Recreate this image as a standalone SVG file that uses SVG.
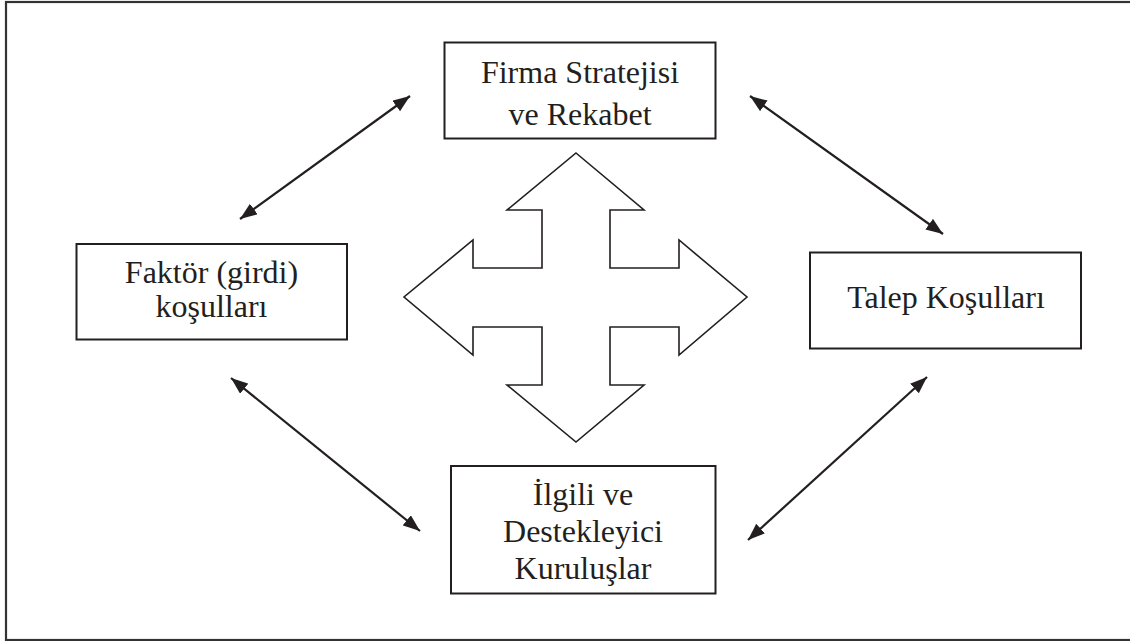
<svg xmlns="http://www.w3.org/2000/svg" width="1130" height="641" viewBox="0 0 1130 641">
<style>
.box{fill:#fff;stroke:#231f20;stroke-width:2}
.lbl{font-family:"Liberation Serif","Times New Roman",serif;font-size:32px;fill:#231f20;text-anchor:middle}
.conn{stroke:#231f20;stroke-width:2.2;fill:none;marker-start:url(#ah);marker-end:url(#ah)}
</style>
<defs>
<marker id="ah" markerUnits="userSpaceOnUse" markerWidth="20" markerHeight="14" refX="17" refY="6.5" orient="auto-start-reverse" viewBox="0 0 20 14">
<path d="M0,0 L17,6.5 L0,13 Z" fill="#231f20"/>
</marker>
</defs>
<rect x="0" y="0" width="1130" height="641" fill="#fff"/>
<rect x="6" y="2" width="1130" height="638" fill="none" stroke="#333" stroke-width="2.2"/>
<g id="cross">
<polygon points="576,153 644,210 610,210 610,268 679,268 679,240 747,297 679,355 679,327 610,327 610,385 644,385 576,442 507,385 542,385 542,327 473,327 473,355 404,297 473,240 473,268 542,268 542,210 507,210" fill="#fff" stroke="#231f20" stroke-width="1.6" stroke-linejoin="miter"/>
</g>
<g id="connectors">
<line class="conn" x1="240" y1="219" x2="410" y2="96"/>
<line class="conn" x1="750" y1="96" x2="943" y2="234"/>
<line class="conn" x1="231" y1="378" x2="420" y2="531"/>
<line class="conn" x1="927" y1="377" x2="748" y2="540"/>
</g>
<g id="firma">
<rect class="box" x="444.5" y="42.5" width="271" height="96"/>
<text class="lbl" x="580" y="83">Firma Stratejisi</text>
<text class="lbl" x="580" y="125">ve Rekabet</text>
</g>
<g id="faktor">
<rect class="box" x="76.5" y="244" width="270.5" height="95.5"/>
<text class="lbl" x="211.5" y="283">Faktör (girdi)</text>
<text class="lbl" x="211.5" y="316.5">koşulları</text>
</g>
<g id="talep">
<rect class="box" x="810" y="252.5" width="271" height="96"/>
<text class="lbl" x="946" y="308">Talep Koşulları</text>
</g>
<g id="ilgili">
<rect class="box" x="451" y="466" width="264.5" height="127.5"/>
<text class="lbl" x="583" y="505">İlgili ve</text>
<text class="lbl" x="583" y="542">Destekleyici</text>
<text class="lbl" x="583" y="579">Kuruluşlar</text>
</g>
</svg>
